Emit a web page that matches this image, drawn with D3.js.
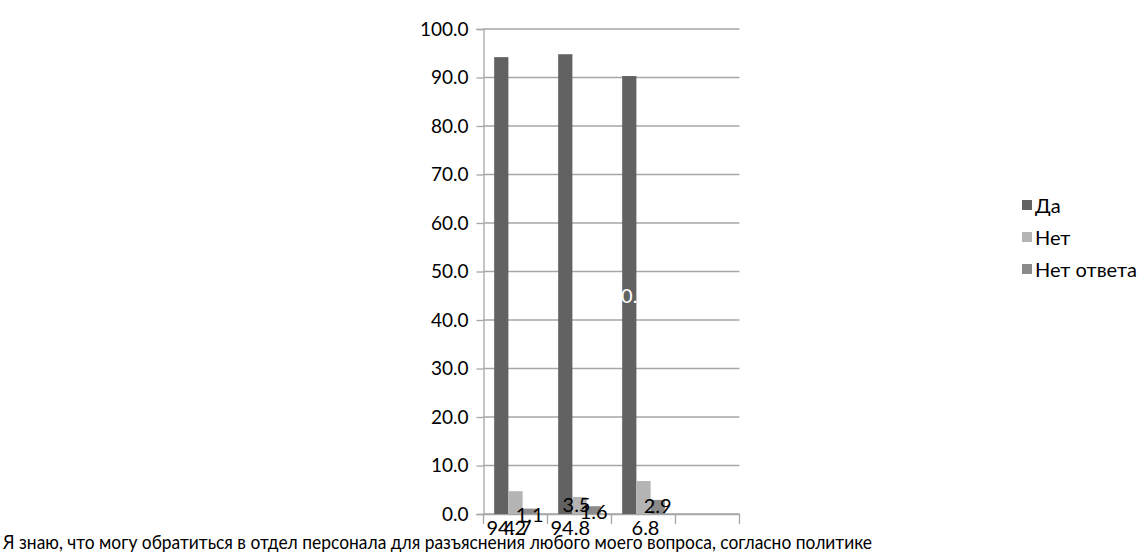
<!DOCTYPE html>
<html>
<head>
<meta charset="utf-8">
<script src="https://cdn.jsdelivr.net/npm/d3@7"></script>
<style>
  body { margin: 0; background: #fff; }
  text { font-family: Lato, "Open Sans", sans-serif; }
</style>
</head>
<body>
<div id="chart"></div>
<script>
// data
var categories = ["q1", "q2", "q3", "q4"];
var categoryLabel = "Я знаю, что могу обратиться в отдел персонала для разъяснения любого моего вопроса, согласно политике";
var seriesNames = ["Да", "Нет", "Нет ответа"];
var da = [94.2, 94.8, 90.3];
var net = [4.7, 3.5, 6.8];
var netOtveta = [1.1, 1.6, 2.9];
var yTicks = [0, 10, 20, 30, 40, 50, 60, 70, 80, 90, 100];
var colors = ["#626262", "#b4b4b4", "#8a8a8a"];

var W = 1142, H = 557;
var margin = {top: 29, left: 483.5, right: 402.5, bottom: 43};
var width = W - margin.left - margin.right,
    height = H - margin.top - margin.bottom;

var svg = d3.select("#chart").append("svg")
    .attr("width", W)
    .attr("height", H);

var g = svg.append("g")
    .attr("transform", "translate(" + margin.left + "," + margin.top + ")");

var x = d3.scaleBand().domain(categories).range([0, width]).paddingInner(0).paddingOuter(0);
var y = d3.scaleLinear().domain([0, 100]).range([height, 0]);

// bar width: gap between groups = 1.5 bar widths
var bw = x.bandwidth() / 4.5;
var x1 = d3.scaleBand().domain(seriesNames).range([bw * 0.75, bw * 3.75]);

// gridlines
g.selectAll(".grid").data(yTicks).enter().append("line")
    .attr("x1", 0).attr("x2", width)
    .attr("y1", function(d) { return y(d); })
    .attr("y2", function(d) { return y(d); })
    .attr("stroke", "#a6a6a6").attr("stroke-width", 1.3);

// y axis
var yAxis = g.append("g")
    .call(d3.axisLeft(y).tickValues(yTicks).tickSize(7).tickPadding(8)
      .tickFormat(d3.format(".1f")));
yAxis.select(".domain").attr("stroke", "#a6a6a6").attr("stroke-width", 1.3);
yAxis.selectAll(".tick line").attr("stroke", "#a6a6a6").attr("stroke-width", 1.3);
yAxis.selectAll("text").attr("font-size", 19).attr("fill", "#000")
    .attr("font-family", "Lato, sans-serif");

// x axis
var xAxis = g.append("g")
    .attr("transform", "translate(0," + height + ")")
    .call(d3.axisBottom(x).tickValues([]).tickSizeOuter(0));
xAxis.select(".domain").attr("stroke", "#a6a6a6").attr("stroke-width", 1.3);
g.selectAll(".xtick").data(categories.concat(["end"])).enter().append("line")
    .attr("x1", function(d, i) { return i * x.step(); })
    .attr("x2", function(d, i) { return i * x.step(); })
    .attr("y1", height).attr("y2", height + 10)
    .attr("stroke", "#a6a6a6").attr("stroke-width", 1.3);

var series = [da, net, netOtveta];
var rows = [];
series.forEach(function(vals, s) {
  vals.forEach(function(v, i) {
    rows.push({s: s, name: seriesNames[s], cat: categories[i], v: v});
  });
});

// bars
g.selectAll(".bar").data(rows).enter().append("rect")
    .attr("x", function(d) { return x(d.cat) + x1(d.name); })
    .attr("width", x1.bandwidth())
    .attr("y", function(d) { return y(d.v); })
    .attr("height", function(d) { return height - y(d.v); })
    .attr("fill", function(d) { return colors[d.s]; });

// data labels, placed the way the original export left them
function cx(d) { return x(d.cat) + x1(d.name) + x1.bandwidth() / 2; }
var labels = g.append("g").attr("font-size", 20);
rows.forEach(function(d) {
  var t = labels.append("text")
      .attr("text-anchor", "middle")
      .attr("dominant-baseline", "central")
      .text(d3.format(".1f")(d.v));
  if (d.s === 2) {
    t.attr("x", cx(d)).attr("y", y(d.v) + 5).attr("fill", "#000");
  } else if (d.s === 1 && d.cat === "q2") {
    t.attr("x", cx(d) - 3).attr("y", y(d.v) + 7).attr("fill", "#000");
  } else if (d.s === 0 && d.cat === "q3") {
    t.attr("x", cx(d)).attr("y", y(d.v / 2)).attr("fill", "#fff");
  } else {
    t.attr("x", cx(d) + (d.s === 0 ? 5 : 2)).attr("y", height + 13).attr("fill", "#000");
  }
});

// category label
svg.append("text")
    .attr("x", 3).attr("y", margin.top + height + 27)
    .attr("dominant-baseline", "central")
    .attr("font-size", 20)
    .attr("textLength", 869)
    .attr("lengthAdjust", "spacingAndGlyphs")
    .text(categoryLabel);

// legend
var legend = svg.append("g").attr("transform", "translate(1022,205)");
seriesNames.forEach(function(name, i) {
  var row = legend.append("g").attr("transform", "translate(0," + (i * 32) + ")");
  row.append("rect").attr("x", 0).attr("y", -5).attr("width", 10).attr("height", 10)
      .attr("fill", colors[i]);
  row.append("text").attr("x", 13).attr("y", 0)
      .attr("dominant-baseline", "central").attr("font-size", 20).text(name);
});
</script>
</body>
</html>
